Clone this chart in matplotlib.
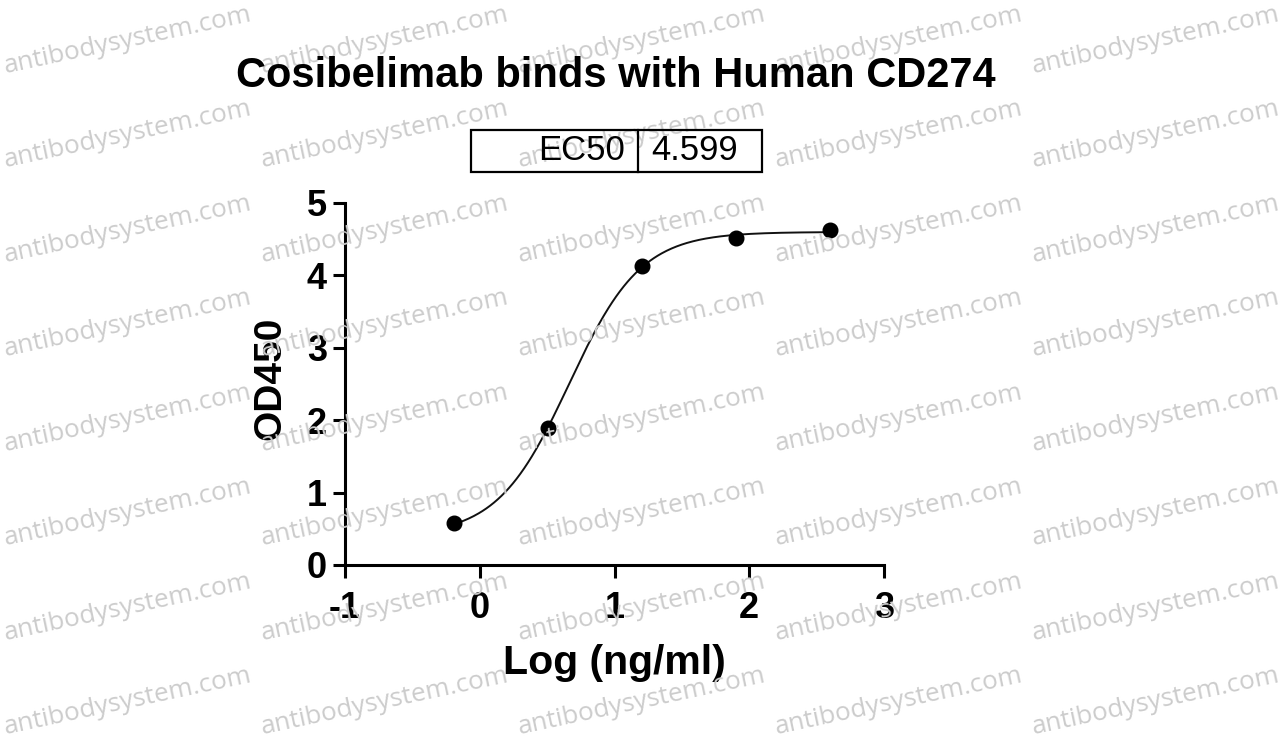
import numpy as np
import matplotlib.pyplot as plt
from matplotlib.patches import Rectangle
from matplotlib.lines import Line2D
from matplotlib.ticker import FuncFormatter

# ----- data -----
log_conc = [-0.194, 0.505, 1.204, 1.903, 2.602]
od450 = [0.58, 1.89, 4.13, 4.52, 4.63]

# 4PL fit parameters
fit_bottom = 0.40
fit_top = 4.60
fit_ec50 = 4.599
fit_hill = 1.63

title = "Cosibelimab binds with Human CD274"
watermark = "antibodysystem.com"

W, H = 1285, 742
fig = plt.figure(figsize=(W / 100, H / 100), dpi=100)
fig.patch.set_facecolor("white")

def fx(px):
    return px / W

def fy(py):
    return 1 - py / H

# watermark grid (behind everything)
for i in range(5):
    for j in range(8):
        fig.text(fx(128 + 257 * i), fy(40 + 94.5 * j), watermark,
                 fontsize=18.8, family="Open Sans", color="#cccccc",
                 rotation=12, ha="center", va="center", zorder=0)

ax = fig.add_axes([fx(345), fy(565), fx(884) - fx(345), fy(203) - fy(565)])
ax.patch.set_alpha(0)

xs = np.linspace(log_conc[0], log_conc[-1], 300)
curve = fit_bottom + (fit_top - fit_bottom) / (1 + 10 ** ((np.log10(fit_ec50) - xs) * fit_hill))
ax.plot(xs, curve, color="#111111", lw=1.4, zorder=2)
ax.plot(log_conc, od450, "o", color="black", ms=10.5, zorder=3, clip_on=False)

ax.set_xlim(-1, 3)
ax.set_ylim(0, 5)
ax.set_xticks([-1, 0, 1, 2, 3])
ax.set_yticks([0, 1, 2, 3, 4, 5])
ax.xaxis.set_major_formatter(FuncFormatter(lambda v, p: f"{v:.0f}"))

for s in ["top", "right"]:
    ax.spines[s].set_visible(False)
for s in ["left", "bottom"]:
    ax.spines[s].set_linewidth(2.2)

ax.tick_params(axis="both", direction="out", length=9, width=2.2)
ax.tick_params(axis="y", pad=4)
ax.tick_params(axis="x", pad=10)
for lab in ax.get_xticklabels() + ax.get_yticklabels():
    lab.set_fontsize(26)
    lab.set_fontweight("bold")
    lab.set_family("Liberation Sans")

ax.set_xlabel("Log (ng/ml)", fontsize=29.5, fontweight="bold", family="Liberation Sans")
ax.set_ylabel("OD450", fontsize=28, fontweight="bold", family="Liberation Sans")
ax.xaxis.set_label_coords(0.5, (565 - 663) / 362)
ax.xaxis.label.set_va("center")
ax.yaxis.set_label_coords((270 - 345) / 539, 0.515)
ax.yaxis.label.set_va("center")

fig.text(fx(616), fy(76), title, fontsize=30, fontweight="bold",
         family="Liberation Sans", ha="center", va="center")

# EC50 box
fig.patches.append(Rectangle((fx(471), fy(172)), fx(762) - fx(471), fy(130) - fy(172),
                             transform=fig.transFigure, fill=False, lw=1.6,
                             edgecolor="black", zorder=3))
fig.lines.append(Line2D([fx(638), fx(638)], [fy(130), fy(172)],
                        transform=fig.transFigure, color="black", lw=1.6, zorder=3))
fig.text(fx(625), fy(151), "EC50", fontsize=25, family="Liberation Sans",
         ha="right", va="center")
fig.text(fx(651), fy(151), f"{fit_ec50:.3f}", fontsize=25, family="Liberation Sans",
         ha="left", va="center")

fig.savefig("out.png", dpi=100, facecolor="white")
